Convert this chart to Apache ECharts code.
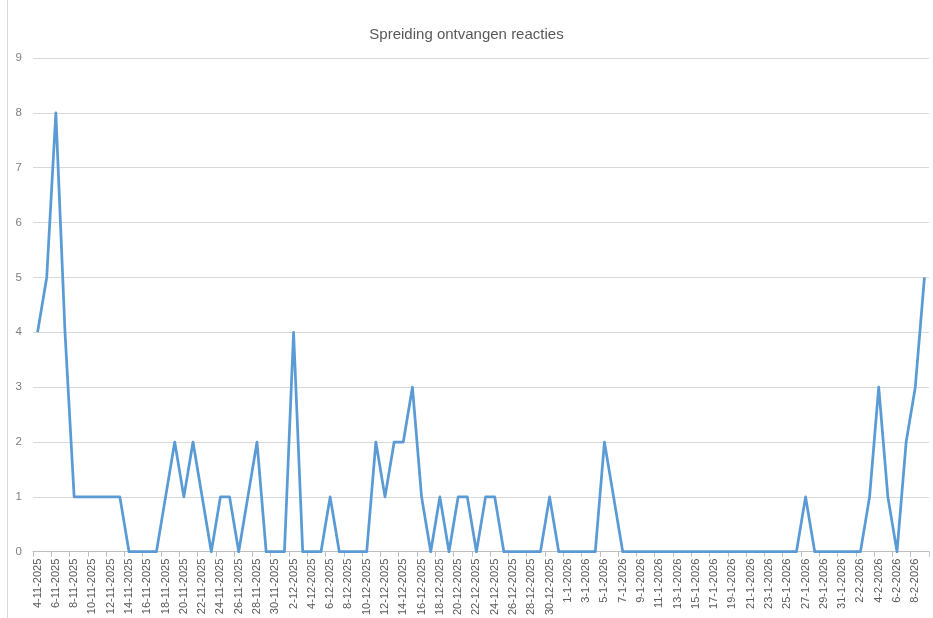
<!DOCTYPE html>
<html><head><meta charset="utf-8">
<script src="https://cdn.jsdelivr.net/npm/echarts@6/dist/echarts.min.js"></script>
<style>html,body{margin:0;padding:0;background:#fff}#c{width:933px;height:618px}</style>
</head><body><div id="c"></div>
<script>
const title = "Spreiding ontvangen reacties";
const startDate = [2025, 10, 4]; // 4-11-2025
const values = [
4,5,8,4,1,1,1,1,1,1,
0,0,0,0,1,2,1,2,1,0,
1,1,0,1,2,0,0,0,4,0,
0,0,1,0,0,0,0,2,1,2,
2,3,1,0,1,0,1,1,0,1,
1,0,0,0,0,0,1,0,0,0,
0,0,2,1,0,0,0,0,0,0,
0,0,0,0,0,0,0,0,0,0,
0,0,0,0,1,0,0,0,0,0,
0,1,3,1,0,2,3,5
];
const categories = [];
for (let i = 0; i < values.length; i++) {
  const d = new Date(startDate[0], startDate[1], startDate[2] + i);
  categories.push(d.getDate() + '-' + (d.getMonth() + 1) + '-' + d.getFullYear());
}
const yTicks = [0,1,2,3,4,5,6,7,8,9];

const chart = echarts.init(document.getElementById('c'), null, {renderer: 'canvas'});
chart.setOption({
  animation: false,
  textStyle: {fontFamily: 'Liberation Sans, Arial, sans-serif'},
  title: {
    text: title, left: 'center', top: 22,
    textStyle: {fontSize: 15, fontWeight: 'normal', color: '#595959', fontFamily: 'Liberation Sans, Arial, sans-serif'}
  },
  graphic: [{type: 'line', shape: {x1: 7.5, y1: 0, x2: 7.5, y2: 618}, style: {stroke: '#d9d9d9', lineWidth: 1}}],
  grid: {left: 33, right: 4, top: 58, bottom: 63, containLabel: false},
  xAxis: {
    type: 'category', data: categories, boundaryGap: true,
    axisLine: {lineStyle: {color: '#bfbfbf'}},
    axisTick: {show: true, interval: 1, length: 5, lineStyle: {color: '#bfbfbf'}},
    axisLabel: {interval: 1, rotate: 90, fontSize: 11, color: '#595959', margin: 7}
  },
  yAxis: {
    type: 'value', min: yTicks[0], max: yTicks[yTicks.length - 1], interval: 1,
    axisLine: {show: false}, axisTick: {show: false},
    axisLabel: {fontSize: 11.5, color: '#7f7f7f', margin: 11},
    splitLine: {lineStyle: {color: '#d9d9d9', width: 1}}
  },
  series: [{
    type: 'line', data: values, symbol: 'none',
    lineStyle: {color: '#5B9BD5', width: 2.75, join: 'round'},
    itemStyle: {color: '#5B9BD5'}
  }]
});
</script></body></html>
